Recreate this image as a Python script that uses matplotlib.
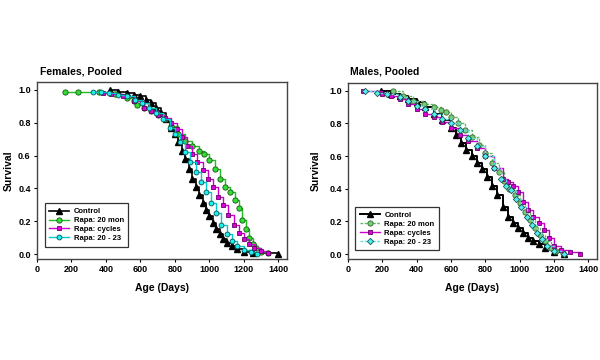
import matplotlib
matplotlib.use("Agg")
import matplotlib.pyplot as plt

plt.rcParams['font.family'] = ['Liberation Sans', 'DejaVu Sans']
plt.rcParams['font.weight'] = 'bold'

# ---- Females, pooled ----
f_ctrl_age = [425, 470, 520, 560, 600, 630, 660, 690, 720, 750, 780, 800, 820, 840, 860, 880, 900,
              920, 940, 960, 980, 1000, 1020, 1040, 1060, 1080, 1100, 1130, 1160, 1200, 1250, 1400]
f_ctrl_surv = [1.0, 0.99, 0.98, 0.97, 0.96, 0.94, 0.92, 0.89, 0.86, 0.82, 0.77, 0.73, 0.68, 0.63, 0.58,
               0.52, 0.46, 0.41, 0.36, 0.31, 0.27, 0.23, 0.19, 0.15, 0.12, 0.09, 0.07, 0.05, 0.03, 0.015, 0.005, 0.0]

f_r20_age = [165, 240, 360, 450, 520, 560, 578, 620, 660, 700, 740, 780, 820, 860, 900, 940, 970, 1000,
             1030, 1060, 1090, 1120, 1150, 1170, 1190, 1210, 1230, 1250, 1270, 1300, 1340]
f_r20_surv = [0.99, 0.985, 0.985, 0.975, 0.95, 0.93, 0.91, 0.89, 0.87, 0.85, 0.82, 0.78, 0.73, 0.69, 0.66,
              0.63, 0.61, 0.57, 0.52, 0.46, 0.41, 0.38, 0.33, 0.28, 0.21, 0.15, 0.1, 0.06, 0.035, 0.015, 0.005]

f_cyc_age = [380, 430, 500, 560, 620, 660, 700, 740, 780, 810, 840, 870, 900, 930, 960, 990, 1020,
             1050, 1080, 1110, 1140, 1170, 1200, 1230, 1260, 1300, 1340]
f_cyc_surv = [0.98, 0.975, 0.96, 0.93, 0.89, 0.87, 0.85, 0.83, 0.8, 0.76, 0.71, 0.66, 0.61, 0.56, 0.51,
              0.46, 0.41, 0.35, 0.3, 0.24, 0.18, 0.13, 0.09, 0.06, 0.04, 0.02, 0.005]

f_c23_age = [325, 370, 420, 470, 520, 570, 610, 650, 690, 730, 770, 800, 830, 860, 890, 920, 950, 980,
             1010, 1040, 1070, 1100, 1130, 1160, 1200, 1240, 1275]
f_c23_surv = [0.99, 0.985, 0.98, 0.97, 0.96, 0.94, 0.92, 0.89, 0.86, 0.82, 0.77, 0.73, 0.68, 0.62, 0.56,
              0.5, 0.44, 0.38, 0.31, 0.25, 0.18, 0.12, 0.08, 0.05, 0.025, 0.01, 0.0]

# ---- Males, pooled ----
m_ctrl_age = [190, 250, 300, 350, 400, 450, 500, 550, 600, 630, 660, 690, 720, 750, 780, 810, 840,
              870, 900, 930, 960, 990, 1020, 1050, 1080, 1110, 1150, 1200, 1260]
m_ctrl_surv = [1.0, 0.98, 0.97, 0.95, 0.93, 0.9, 0.86, 0.82, 0.77, 0.73, 0.68, 0.64, 0.6, 0.56, 0.52,
               0.47, 0.42, 0.36, 0.29, 0.23, 0.19, 0.16, 0.13, 0.1, 0.08, 0.06, 0.035, 0.01, 0.0]

m_r20_age = [260, 320, 380, 440, 500, 540, 570, 600, 640, 680, 720, 760, 800, 840, 880, 910, 940,
             970, 1000, 1030, 1060, 1090, 1120, 1150, 1180, 1210, 1250]
m_r20_surv = [1.0, 0.97, 0.94, 0.92, 0.9, 0.88, 0.87, 0.84, 0.8, 0.76, 0.72, 0.67, 0.62, 0.56, 0.5,
              0.45, 0.4, 0.36, 0.31, 0.26, 0.21, 0.16, 0.12, 0.08, 0.04, 0.02, 0.005]

m_cyc_age = [90, 200, 250, 300, 350, 400, 450, 500, 550, 600, 650, 700, 750, 800, 850, 900, 930, 960,
             990, 1020, 1050, 1080, 1110, 1140, 1170, 1200, 1240, 1290, 1350]
m_cyc_surv = [1.0, 0.98, 0.97, 0.95, 0.92, 0.89, 0.86, 0.84, 0.81, 0.77, 0.73, 0.69, 0.65, 0.6, 0.53,
              0.46, 0.44, 0.42, 0.38, 0.32, 0.27, 0.23, 0.19, 0.15, 0.1, 0.05, 0.025, 0.01, 0.0]

m_c23_age = [100, 170, 230, 300, 350, 400, 450, 500, 550, 600, 650, 700, 750, 800, 850, 890, 920,
             950, 980, 1010, 1040, 1070, 1100, 1130, 1160, 1200, 1260]
m_c23_surv = [1.0, 0.985, 0.98, 0.96, 0.94, 0.91, 0.89, 0.86, 0.83, 0.8, 0.76, 0.71, 0.66, 0.6, 0.53,
              0.46, 0.42, 0.39, 0.34, 0.29, 0.23, 0.18, 0.13, 0.09, 0.05, 0.02, 0.0]

labels = ['Control', 'Rapa: 20 mon', 'Rapa: cycles', 'Rapa: 20 - 23']

fig = plt.figure(figsize=(6, 3.6), dpi=100)
fig.patch.set_facecolor('white')


def style_axes(ax):
    ax.set_xlim(0, 1450)
    ax.set_ylim(-0.03, 1.048)
    ax.set_xticks(range(0, 1401, 200))
    ax.set_yticks([0.0, 0.2, 0.4, 0.6, 0.8, 1.0])
    ax.set_yticklabels(['0.0', '0.2', '0.4', '0.6', '0.8', '1.0'])
    ax.tick_params(labelsize=6.5, length=2.5, width=0.8, pad=2)
    for s in ax.spines.values():
        s.set_color('#444444')
        s.set_linewidth(1.0)
    ax.set_xlabel('Age (Days)', fontsize=7.5, fontweight='bold', labelpad=6)
    ax.set_ylabel('Survival', fontsize=7.5, fontweight='bold')


# females
ax1 = fig.add_axes([37 / 600, 1 - 259 / 360, 250 / 600, 177 / 360])
ax1.plot(f_ctrl_age, f_ctrl_surv, drawstyle='steps-post', color='black', lw=1.2, marker='^',
         ms=3.8, mfc='black', mec='black', label=labels[0], zorder=2)
ax1.plot(f_r20_age, f_r20_surv, drawstyle='steps-post', color='#22bb22', lw=1, marker='o',
         ms=3.8, mfc='#33dd33', mec='#115511', mew=0.6, label=labels[1], zorder=3)
ax1.plot(f_cyc_age, f_cyc_surv, drawstyle='steps-post', color='#cc00cc', lw=1, marker='s',
         ms=3.5, mfc='#dd00dd', mec='#660066', mew=0.6, label=labels[2], zorder=3)
ax1.plot(f_c23_age, f_c23_surv, drawstyle='steps-post', color='#00cccc', lw=1, marker='o',
         ms=3.5, mfc='#22eeee', mec='#005555', mew=0.6, label=labels[3], zorder=4)
style_axes(ax1)
ax1.yaxis.set_label_coords(-0.095, 0.5)
leg1 = ax1.legend(loc='lower left', bbox_to_anchor=(0.03, 0.07), borderaxespad=0, fontsize=5.5,
                  fancybox=False, edgecolor='#333333', framealpha=1, handlelength=2.6,
                  labelspacing=0.2, borderpad=0.6, handletextpad=0.6)
leg1.get_frame().set_linewidth(0.9)
fig.text(40 / 600, 1 - 72 / 360, 'Females, Pooled', fontsize=7.5, fontweight='bold', va='center')

# males
ax2 = fig.add_axes([348 / 600, 1 - 259 / 360, 249 / 600, 176 / 360])
ax2.plot(m_ctrl_age, m_ctrl_surv, drawstyle='steps-post', color='black', lw=1.4, marker='^',
         ms=3.8, mfc='black', mec='black', label=labels[0], zorder=2)
ax2.plot(m_r20_age, m_r20_surv, drawstyle='steps-post', color='#66bb66', lw=1, ls=(0, (2, 1)),
         marker='o', ms=3.8, mfc='#77cc77', mec='#336633', mew=0.6, label=labels[1], zorder=3)
ax2.plot(m_cyc_age, m_cyc_surv, drawstyle='steps-post', color='#cc00cc', lw=1, marker='s',
         ms=3.5, mfc='#dd00dd', mec='#660066', mew=0.6, label=labels[2], zorder=3)
ax2.plot(m_c23_age, m_c23_surv, drawstyle='steps-post', color='#66dddd', lw=1, ls=(0, (2, 1)),
         marker='D', ms=3.2, mfc='#55eeee', mec='#115555', mew=0.6, label=labels[3], zorder=4)
style_axes(ax2)
ax2.yaxis.set_label_coords(-0.11, 0.5)
leg2 = ax2.legend(loc='lower left', bbox_to_anchor=(0.03, 0.05), borderaxespad=0, fontsize=5.5,
                  fancybox=False, edgecolor='#333333', framealpha=1, handlelength=2.6,
                  labelspacing=0.2, borderpad=0.6, handletextpad=0.6)
leg2.get_frame().set_linewidth(0.9)
fig.text(350 / 600, 1 - 72 / 360, 'Males, Pooled', fontsize=7.5, fontweight='bold', va='center')

fig.savefig('out.png', dpi=100, facecolor='white')
